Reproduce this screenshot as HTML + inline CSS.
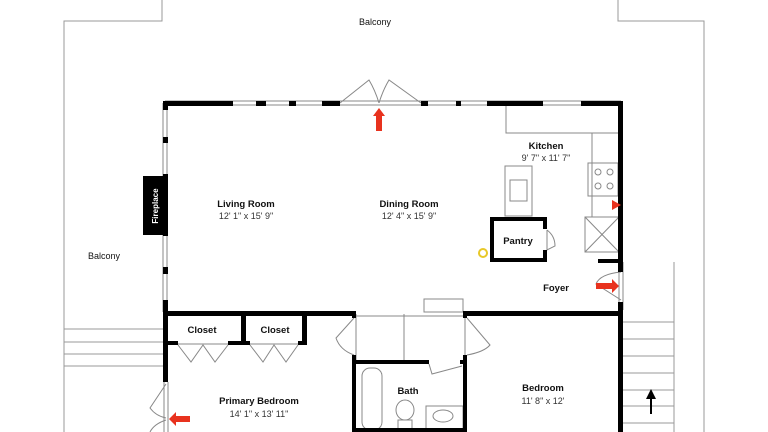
<!DOCTYPE html>
<html><head><meta charset="utf-8"><style>
html,body{margin:0;padding:0;background:#fff;}
svg{display:block;}
text{font-family:"Liberation Sans",sans-serif;fill:#111;}
.n{font-size:9.5px;font-weight:bold;text-anchor:middle;}
.d{font-size:9px;text-anchor:middle;fill:#333;}
</style></head><body>
<svg width="768" height="432" viewBox="0 0 768 432" xmlns="http://www.w3.org/2000/svg">
<g stroke="#999" stroke-width="1" fill="none">
<!-- balcony outline -->
<polyline points="162,0 162,21 64,21 64,432"/>
<polyline points="618,0 618,21 704,21 704,432"/>
<!-- left stairs -->
<line x1="64" y1="329" x2="164" y2="329"/><line x1="64" y1="342" x2="164" y2="342"/>
<line x1="64" y1="354" x2="164" y2="354"/><line x1="64" y1="366" x2="164" y2="366"/>
<!-- right stairs -->
<line x1="674" y1="262" x2="674" y2="432"/>
<line x1="623" y1="322" x2="674" y2="322"/><line x1="623" y1="339" x2="674" y2="339"/>
<line x1="623" y1="356" x2="674" y2="356"/><line x1="623" y1="373" x2="674" y2="373"/>
<line x1="623" y1="390" x2="674" y2="390"/><line x1="623" y1="406" x2="674" y2="406"/>
<line x1="623" y1="423" x2="674" y2="423"/>
</g>
<!-- thin window lines -->
<g stroke="#888" stroke-width="1" fill="none">
<line x1="165" y1="101" x2="621" y2="101"/><line x1="165" y1="105" x2="621" y2="105"/>
<line x1="163" y1="103" x2="163" y2="312"/><line x1="167" y1="103" x2="167" y2="312"/>
<line x1="619" y1="262" x2="619" y2="310"/><line x1="623" y1="262" x2="623" y2="310"/>
<line x1="164" y1="382" x2="164" y2="432"/><line x1="168" y1="382" x2="168" y2="432"/>
<!-- top double doors -->
<path d="M340,103 L369,80 Q375,90 379,103"/><path d="M379,103 Q383,90 389,80 L421,103"/>
<!-- kitchen counters -->
<rect x="506" y="105" width="113" height="28"/>
<rect x="592" y="133" width="27" height="84"/>
<rect x="588" y="163" width="30" height="33"/>
<rect x="585" y="217" width="34" height="35"/>
<line x1="585" y1="217" x2="619" y2="252"/><line x1="619" y1="217" x2="585" y2="252"/>
<rect x="505" y="166" width="27" height="50"/>
<rect x="510" y="180" width="17" height="21"/>
<!-- pantry door -->
<path d="M547,230 L547,250 L555,246 Q555,236 547,230"/>
<!-- foyer door -->
<path d="M621,272 Q600,274 596,284 L621,300"/>
<!-- hallway -->
<line x1="356" y1="314" x2="356" y2="362"/><line x1="465" y1="314" x2="465" y2="362"/>
<line x1="404" y1="314" x2="404" y2="362"/>
<line x1="356" y1="316" x2="465" y2="316"/>
<rect x="424" y="299" width="39" height="13"/>
<path d="M354,318 L336,338 Q340,350 354,355"/>
<path d="M467,318 L490,345 Q484,352 467,355"/>
<path d="M429,364 L432,374 L462,366"/>
<!-- closet bifold doors -->
<path d="M178,345 L191,362 L203,345 L215,362 L228,345"/>
<path d="M250,345 L263,362 L274,345 L286,362 L298,345"/>
<line x1="178" y1="344" x2="228" y2="344"/><line x1="250" y1="344" x2="298" y2="344"/>
<!-- left exterior door -->
<path d="M166,384 L150,408 Q156,416 166,418"/><path d="M166,420 Q154,424 150,432"/>
<!-- bath fixtures -->
<rect x="362" y="368" width="20" height="62" rx="8"/>
<ellipse cx="405" cy="410" rx="9" ry="10"/><rect x="398" y="420" width="14" height="10"/>
<rect x="426" y="406" width="37" height="26"/><ellipse cx="443" cy="416" rx="10" ry="6"/>
<!-- stove burners -->
<circle cx="598" cy="172" r="3"/><circle cx="610" cy="172" r="3"/>
<circle cx="598" cy="186" r="3"/><circle cx="610" cy="186" r="3"/>
</g>
<!-- thick walls -->
<g fill="#000">
<!-- top wall -->
<rect x="163" y="101" width="70" height="5"/><rect x="256" y="101" width="10" height="5"/>
<rect x="289" y="101" width="7" height="5"/><rect x="322" y="101" width="18" height="5"/>
<rect x="421" y="101" width="7" height="5"/><rect x="456" y="101" width="5" height="5"/>
<rect x="487" y="101" width="56" height="5"/><rect x="581" y="101" width="42" height="5"/>
<!-- left wall -->
<rect x="163" y="101" width="5" height="9"/><rect x="163" y="137" width="5" height="6"/>
<rect x="163" y="174" width="5" height="62"/><rect x="163" y="267" width="5" height="7"/>
<rect x="163" y="300" width="5" height="82"/>
<rect x="143" y="176" width="22" height="59"/>
<!-- right wall -->
<rect x="618" y="101" width="5" height="171"/><rect x="618" y="302" width="5" height="130"/>
<rect x="598" y="259" width="23" height="4"/>
<!-- middle walls -->
<rect x="163" y="311" width="193" height="5"/><rect x="463" y="311" width="160" height="5"/>
<rect x="241" y="311" width="5" height="34"/><rect x="302" y="311" width="5" height="34"/>
<rect x="163" y="341" width="15" height="4"/><rect x="228" y="341" width="22" height="4"/>
<rect x="298" y="341" width="9" height="4"/>
<rect x="352" y="311" width="4" height="7"/><rect x="352" y="355" width="4" height="77"/>
<rect x="463" y="311" width="4" height="7"/><rect x="463" y="355" width="4" height="77"/>
<rect x="352" y="360" width="77" height="4"/><rect x="460" y="360" width="5" height="4"/>
<rect x="352" y="428" width="115" height="4"/>
<!-- pantry -->
<rect x="490" y="217" width="57" height="4"/><rect x="490" y="258" width="57" height="4"/>
<rect x="490" y="217" width="4" height="45"/><rect x="543" y="217" width="4" height="12"/><rect x="543" y="250" width="4" height="12"/>
<!-- stair arrow -->
<rect x="650" y="397" width="2" height="17"/><polygon points="651,389 646,399 656,399"/>
</g>
<text x="155" y="206" transform="rotate(-90 155 206)" style="font-size:8px;font-weight:bold;fill:#fff;text-anchor:middle;" dy="3">Fireplace</text>
<!-- exit arrows -->
<g fill="#e8321e">
<polygon points="379,108 373,116 376,116 376,131 382,131 382,116 385,116"/>
<polygon points="596,283 612,283 612,279 619,286 612,293 612,289 596,289"/>
<polygon points="190,416 176,416 176,412 169,419 176,426 176,422 190,422"/>
<polygon points="621,205 612,200 612,210"/>
</g>
<circle cx="483" cy="253" r="4" fill="none" stroke="#e8c828" stroke-width="2"/>
<!-- labels -->
<text class="n" x="375" y="25" style="font-weight:normal;font-size:9px">Balcony</text>
<text class="n" x="104" y="259" style="font-weight:normal;font-size:9px">Balcony</text>
<text class="n" x="246" y="207">Living Room</text><text class="d" x="246" y="219">12' 1" x 15' 9"</text>
<text class="n" x="409" y="207">Dining Room</text><text class="d" x="409" y="219">12' 4" x 15' 9"</text>
<text class="n" x="546" y="149">Kitchen</text><text class="d" x="546" y="161">9' 7" x 11' 7"</text>
<text class="n" x="518" y="244">Pantry</text>
<text class="n" x="556" y="291">Foyer</text>
<text class="n" x="202" y="333">Closet</text><text class="n" x="275" y="333">Closet</text>
<text class="n" x="408" y="394">Bath</text>
<text class="n" x="543" y="391">Bedroom</text><text class="d" x="543" y="404">11' 8" x 12'</text>
<text class="n" x="259" y="404">Primary Bedroom</text><text class="d" x="259" y="417">14' 1" x 13' 11"</text>
</svg>
</body></html>
